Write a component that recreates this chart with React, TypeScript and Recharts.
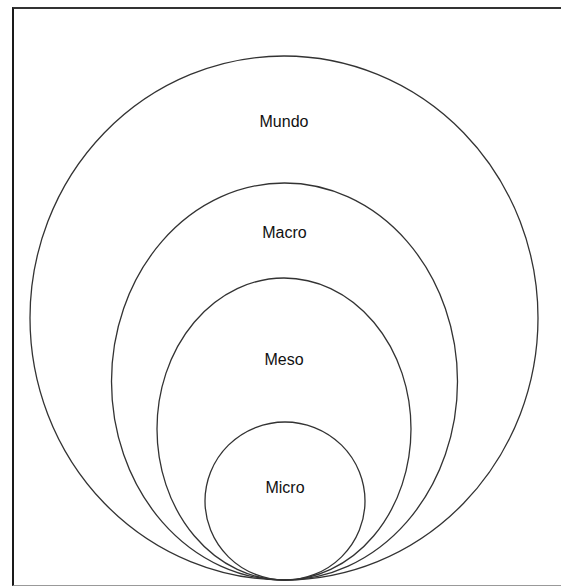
import React from "react";
import { ScatterChart, Scatter, XAxis, YAxis } from "recharts";

// nested levels, outer first (units = pixels of the 561x586 frame)
const levels = ["Mundo", "Macro", "Meso", "Micro"];
const centerX = [284, 284.5, 284, 285];
const centerY = [318, 381.5, 429, 501];
const radiusX = [254, 173, 127, 80];
const radiusY = [262, 198.5, 151, 79];
const labelY = [121, 232, 359, 487];

const W = 561;
const H = 586;
const stroke = "#333";

const ellipses = levels.map((name, i) => ({
  name,
  x: centerX[i],
  y: centerY[i],
  rx: radiusX[i],
  ry: radiusY[i],
}));

const labels = levels.map((name, i) => ({ name, x: centerX[i], y: labelY[i] }));

const EllipseShape = (props: any) => {
  const { cx, cy, payload } = props;
  return <ellipse cx={cx} cy={cy} rx={payload.rx} ry={payload.ry} fill="none" stroke={stroke} strokeWidth={1.3} />;
};

const LabelShape = (props: any) => {
  const { cx, cy, payload } = props;
  return (
    <text x={cx} y={cy} textAnchor="middle" dominantBaseline="central" fontFamily="'Liberation Sans', Arial, sans-serif" fontSize={16} fill="#111">
      {payload.name}
    </text>
  );
};

export default function App() {
  return (
    <div style={{ position: "absolute", left: 0, top: 0, width: W, height: H, background: "#fff", overflow: "hidden" }}>
      {/* frame: right edge runs off the picture */}
      <div
        style={{
          position: "absolute",
          left: 12,
          top: 7,
          width: 600,
          height: 576,
          borderLeft: "2px solid #1a1a1a",
          borderTop: "2px solid #333",
          borderBottom: "1px solid #999",
        }}
      />
      <div style={{ position: "absolute", left: 0, top: 0 }}>
        <ScatterChart width={W} height={H} margin={{ top: 0, right: 0, bottom: 0, left: 0 }}>
          <XAxis type="number" dataKey="x" domain={[0, W]} hide />
          <YAxis type="number" dataKey="y" domain={[0, H]} reversed hide />
          <Scatter data={ellipses} shape={EllipseShape} isAnimationActive={false} />
          <Scatter data={labels} shape={LabelShape} isAnimationActive={false} />
        </ScatterChart>
      </div>
    </div>
  );
}
